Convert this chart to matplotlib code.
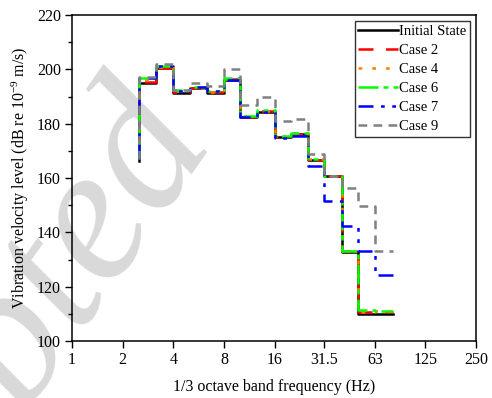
import numpy as np
import matplotlib
matplotlib.use("Agg")
import matplotlib.pyplot as plt
from matplotlib.ticker import FixedLocator, MultipleLocator

plt.rcParams['font.family'] = ['Liberation Serif', 'DejaVu Serif']
plt.rcParams['mathtext.fontset'] = 'custom'
plt.rcParams['mathtext.rm'] = 'Liberation Serif'
plt.rcParams['mathtext.it'] = 'Liberation Serif:italic'

# 1/3 octave band lower edges (Hz) and the last upper edge
bands = [2.5, 3.15, 4, 5, 6.3, 8, 10, 12.5, 16, 20, 25, 31.5, 40, 50, 63]
last_edge = 80

labels = ["Initial State", "Case 2", "Case 4", "Case 6", "Case 7", "Case 9"]
start_levels = [166.3, 167.0, 167.8, 167.0, 167.0, 167.0]

initial_state = [195.0, 200.4, 191.4, 193.2, 191.4, 196.1, 182.4, 184.4, 175.0, 176.2, 166.5, 160.7, 132.8, 110.0, 110.0]
case2 = [195.5, 200.6, 191.6, 193.3, 191.5, 196.4, 182.6, 184.6, 175.2, 176.3, 166.7, 160.8, 133.0, 110.8, 110.8]
case4 = [196.0, 200.8, 192.0, 193.3, 191.8, 196.5, 182.8, 184.8, 175.4, 176.5, 167.0, 160.8, 133.0, 110.6, 111.0]
case6 = [196.8, 201.2, 192.3, 193.6, 192.0, 196.8, 183.0, 185.0, 175.6, 176.6, 167.0, 160.9, 133.1, 111.3, 111.0]
case7 = [196.8, 201.4, 192.2, 193.4, 192.2, 196.2, 182.4, 184.4, 174.6, 175.3, 164.5, 151.7, 142.3, 133.1, 124.2]
case9 = [197.0, 201.8, 192.4, 194.9, 193.8, 200.0, 186.9, 189.7, 181.0, 181.7, 168.8, 160.7, 156.3, 149.6, 133.2]
series = [initial_state, case2, case4, case6, case7, case9]

xtick_vals = [1, 2, 4, 8, 16, 31.5, 63, 125, 250]
xtick_labels = ["1", "2", "4", "8", "16", "31.5", "63", "125", "250"]

colors = ["black", "#ff0000", "#ff8000", "#00ff00", "#0000ff", "#808080"]
styles = ["-", (0, (6, 5)), (0, (1.5, 4)), (0, (8, 2, 2, 2)), (0, (6, 3, 1.5, 3, 1.5, 3)), (0, (3.5, 2.5))]

fig = plt.figure(figsize=(4.92, 3.98), dpi=100)
ax = fig.add_axes([0.1463, 0.1432, 0.8212, 0.8191])
ax.patch.set_alpha(0)

# watermark
fig.text(0.057, -0.068, "pted", fontsize=140, color="#d9d9d9", rotation=55,
         ha="left", va="baseline", zorder=-1, family="Liberation Serif",
         style="italic", rotation_mode="anchor")

edges = list(bands) + [last_edge]
for lab, vals, s0, c, ls in zip(labels, series, start_levels, colors, styles):
    x = [edges[0]] + edges
    y = [s0] + list(vals) + [vals[-1]]
    ax.plot(x, y, drawstyle="steps-post", color=c, linestyle=ls, lw=1.8, label=lab)

ax.set_xscale("log", base=2)
ax.set_xlim(1, 250)
ax.set_ylim(100, 220)
ax.xaxis.set_major_locator(FixedLocator(xtick_vals))
ax.set_xticklabels(xtick_labels)
ax.xaxis.set_minor_locator(FixedLocator([]))
ax.yaxis.set_major_locator(MultipleLocator(20))
ax.yaxis.set_minor_locator(MultipleLocator(10))
ax.tick_params(axis="both", which="major", direction="out", length=5, width=1, labelsize=11.5, pad=3,
               top=False, right=False)
ax.tick_params(axis="y", which="minor", direction="out", length=3, width=1, right=False)
for sp in ax.spines.values():
    sp.set_linewidth(1.1)

ax.set_xlabel("1/3 octave band frequency (Hz)", fontsize=11.5, labelpad=8)
ax.set_ylabel("Vibration velocity level (dB re 10$^{-9}$ m/s)", fontsize=11.5, labelpad=4)

leg = ax.legend(loc="upper right", fontsize=10.5, frameon=True, fancybox=False,
                edgecolor="black", handlelength=2.7, handletextpad=0.1,
                labelspacing=0.4, borderpad=0.25, borderaxespad=0.4)
leg.get_frame().set_linewidth(1.0)

fig.savefig("out.png", dpi=100)
